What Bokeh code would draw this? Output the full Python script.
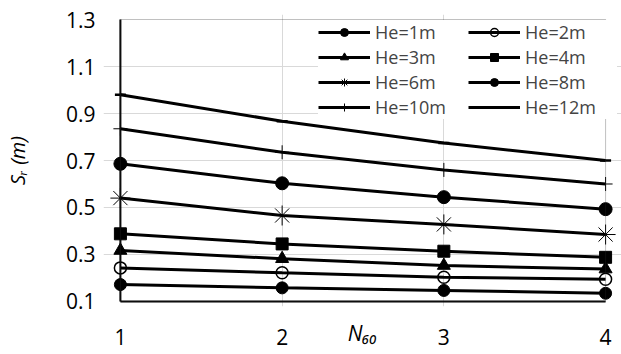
from bokeh.plotting import figure
from bokeh.models import Legend, LegendItem, FixedTicker, Range1d, BoxAnnotation
from bokeh.embed import file_html
from bokeh.resources import INLINE

# ---- data ----
N60 = [1, 2, 3, 4]
He1 = [0.172, 0.158, 0.147, 0.135]
He2 = [0.243, 0.222, 0.203, 0.195]
He3 = [0.317, 0.282, 0.253, 0.238]
He4 = [0.388, 0.345, 0.314, 0.288]
He6 = [0.540, 0.466, 0.428, 0.385]
He8 = [0.686, 0.603, 0.544, 0.493]
He10 = [0.835, 0.735, 0.660, 0.600]
He12 = [0.980, 0.867, 0.774, 0.700]

series_names = ["He=1m", "He=2m", "He=3m", "He=4m", "He=6m", "He=8m", "He=10m", "He=12m"]
series_values = [He1, He2, He3, He4, He6, He8, He10, He12]

X_TICKS = [1, 2, 3, 4]
Y_TICKS = [0.1, 0.3, 0.5, 0.7, 0.9, 1.1, 1.3]
X_MIN, X_MAX = 1, 4
Y_MIN, Y_MAX = 0.1, 1.3

# marker styles (type, size, fill, line width)
styles = [
    ("circle", 12, "black", 1),
    ("circle", 12, None, 1.5),
    ("triangle", 13, "black", 1),
    ("square", 12, "black", 1),
    ("asterisk", 20, None, 1),
    ("circle", 13, "black", 1),
    ("cross", 14, None, 1),
    ("dash", 11, None, 2.5),
]

FONT = "Open Sans"

p = figure(width=621, height=354, output_backend="svg", toolbar_location=None,
           x_range=Range1d(0.8955, 4.0984), y_range=Range1d(0.0787, 1.3213),
           min_border_left=100, min_border_right=0, min_border_top=14, min_border_bottom=48)
p.outline_line_color = None
p.background_fill_color = "white"

# grid
p.xgrid.ticker = FixedTicker(ticks=X_TICKS[1:-1])
p.ygrid.ticker = FixedTicker(ticks=Y_TICKS[1:-1])
p.xgrid.grid_line_color = "#d9d9d9"
p.ygrid.grid_line_color = "#d9d9d9"
p.xgrid.grid_line_width = 1
p.ygrid.grid_line_width = 1

# axes
for ax in (p.xaxis[0], p.yaxis[0]):
    ax.axis_line_color = None
    ax.major_tick_line_color = None
    ax.minor_tick_line_color = None
    ax.major_tick_out = 0
    ax.major_tick_in = 0
    ax.minor_tick_out = 0
    ax.minor_tick_in = 0
    ax.major_label_text_font = FONT
    ax.major_label_text_font_size = "21px"
    ax.major_label_text_color = "black"
    ax.axis_label_text_font = FONT
    ax.axis_label_text_color = "black"
    ax.axis_label_text_font_style = "italic"
p.xaxis.ticker = FixedTicker(ticks=X_TICKS)
p.yaxis.ticker = FixedTicker(ticks=Y_TICKS)
p.xaxis.major_label_standoff = 22
p.yaxis.major_label_standoff = 8
p.xaxis.axis_label = "N\u2086\u2080"
p.xaxis.axis_label_text_font_size = "21px"
p.xaxis.axis_label_standoff = -29
p.yaxis.axis_label = "S\u1d63 (m)"
p.yaxis.axis_label_text_font_size = "20px"
p.yaxis.axis_label_standoff = 32

# left and bottom plot borders (under the markers)
p.segment(x0=[X_MIN], y0=[Y_MIN], x1=[X_MIN], y1=[Y_MAX], line_color="black", line_width=2)
p.segment(x0=[X_MIN], y0=[Y_MIN], x1=[X_MAX], y1=[Y_MIN], line_color="black", line_width=2)

renderers = {}
for name, vals, (mk, sz, fill, lw) in zip(series_names, series_values, styles):
    ln = p.line(N60, vals, line_color="black", line_width=3)
    sc = p.scatter(N60, vals, marker=mk, size=sz, line_color="black", line_width=lw,
                   fill_color=fill if fill else None)
    renderers[name] = [ln, sc]

# legend is filled column by column: left column first, then right column
legend_order = ["He=1m", "He=3m", "He=6m", "He=10m", "He=2m", "He=4m", "He=8m", "He=12m"]
items = [LegendItem(label=n, renderers=renderers[n]) for n in legend_order]

legend = Legend(items=items, location=(215, 187), ncols=2,
                glyph_width=52, glyph_height=20, label_height=20, label_width=92,
                label_standoff=5, spacing=1, padding=0, margin=0,
                label_text_font=FONT, label_text_font_size="18px",
                border_line_color=None, background_fill_color="white", background_fill_alpha=1)
p.add_layout(legend, "center")

# thin plot-area outline drawn above the legend (top & right edges)
p.add_layout(BoxAnnotation(left=X_MIN, right=X_MAX, bottom=Y_MIN, top=Y_MAX,
                           fill_alpha=0, line_color="#303030", line_width=1))

open("out.html", "w").write(file_html(p, INLINE))
